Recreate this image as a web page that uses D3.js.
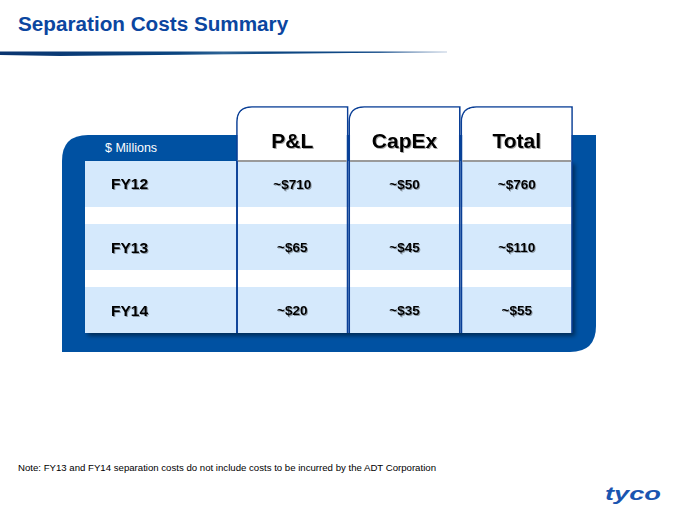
<!DOCTYPE html>
<html><head><meta charset="utf-8">
<script src="https://cdn.jsdelivr.net/npm/d3@7"></script>
<style>html,body{margin:0;padding:0;background:#fff;}svg{display:block;}</style>
</head><body>
<script>
const title = "Separation Costs Summary";
const unitLabel = "$ Millions";
const years = ["FY12", "FY13", "FY14"];
const columns = ["P&L", "CapEx", "Total"];
const plValues = [710, 65, 20];
const capexValues = [50, 45, 35];
const totalValues = [760, 110, 55];
const note = "Note:  FY13 and FY14 separation costs do not include costs  to be incurred by the ADT Corporation";

const W = 680, H = 510;
const svg = d3.select("body").append("svg").attr("width", W).attr("height", H);
const defs = svg.append("defs");
const g1 = defs.append("linearGradient").attr("id","ul").attr("x1","0").attr("x2","1");
g1.append("stop").attr("offset","0").attr("stop-color","#0a3570");
g1.append("stop").attr("offset","0.4").attr("stop-color","#0b4580");
g1.append("stop").attr("offset","0.5").attr("stop-color","#2e6496");
g1.append("stop").attr("offset","0.6").attr("stop-color","#0b4580");
g1.append("stop").attr("offset","0.85").attr("stop-color","#124a88");
g1.append("stop").attr("offset","1").attr("stop-color","#bfcde0");
const f = defs.append("filter").attr("id","sh").attr("x","-5%").attr("y","-5%").attr("width","115%").attr("height","120%");
f.append("feDropShadow").attr("dx",3).attr("dy",3).attr("stdDeviation",2).attr("flood-color","#000").attr("flood-opacity",0.45);
const ts = defs.append("filter").attr("id","ts").attr("x","-10%").attr("y","-20%").attr("width","130%").attr("height","150%");
ts.append("feDropShadow").attr("dx",1).attr("dy",1).attr("stdDeviation",0.6).attr("flood-color","#000").attr("flood-opacity",0.35);

// Title
svg.append("text").attr("x",18).attr("y",31).text(title)
  .attr("font-family","Liberation Sans, Arial, sans-serif").attr("font-weight","bold")
  .attr("font-size",20.7).attr("fill","#0b46a0");
// underline swoosh
svg.append("path").attr("d","M0,51.5 L447,51.5 L447,52.6 Q260,53.5 60,56 L0,55 Z").attr("fill","url(#ul)");

const blue = "#0051a2";
// outer blue panel
const L=62, T=135, R=596, B=352, r=26;
svg.append("path").attr("d",`M${L},${B} L${L},${T+r} Q${L},${T} ${L+r},${T} L${R},${T} L${R},${B-r} Q${R},${B} ${R-r},${B} Z`).attr("fill",blue);

svg.append("text").attr("x",105).attr("y",152).text(unitLabel)
  .attr("font-family","Liberation Sans, Arial, sans-serif").attr("font-size",12.5).attr("fill","#fff");

const tL=85, tT=161, tR=572, tB=333;
const y = d3.scaleBand().domain(years).range([tT, tB]).paddingInner(0.27);
const x = d3.scaleBand().domain(columns).range([237, tR]).paddingInner(0.015);

// table body with shadow
const body = svg.append("g");
body.append("rect").attr("x",tL).attr("y",tT).attr("width",tR-tL).attr("height",tB-tT).attr("fill","#fff").attr("filter","url(#sh)");
body.selectAll("rect.row").data(years).join("rect").attr("class","row")
  .attr("x",tL).attr("y",d=>y(d)).attr("width",tR-tL).attr("height",y.bandwidth()).attr("fill","#d5e9fc");

// header cards
const cardTop = 107, cr = 15;
const cards = svg.append("g");
columns.forEach(c=>{
  const x0 = x(c), x1 = x(c)+x.bandwidth();
  cards.append("path").attr("d",`M${x0},${tB} L${x0},${cardTop+cr} Q${x0},${cardTop} ${x0+cr},${cardTop} L${x1},${cardTop} L${x1},${tB}`)
    .attr("fill","none").attr("stroke","#0a3f96").attr("stroke-width",1.6);
  cards.append("path").attr("d",`M${x0+0.8},${tT} L${x0+0.8},${cardTop+cr} Q${x0+0.8},${cardTop+0.8} ${x0+cr},${cardTop+0.8} L${x1-0.8},${cardTop+0.8} L${x1-0.8},${tT} Z`)
    .attr("fill","#fff");
  cards.append("rect").attr("x",x0+0.8).attr("y",tT-1).attr("width",x.bandwidth()-1.6).attr("height",2).attr("fill","#9a9a9a");
  cards.append("text").attr("x",x0+x.bandwidth()/2).attr("y",148).attr("text-anchor","middle").text(c)
    .attr("font-family","Liberation Sans, Arial, sans-serif").attr("font-weight","bold").attr("font-size",21).attr("fill","#000").attr("filter","url(#ts)");
});
// first column divider
svg.append("line").attr("x1",237).attr("x2",237).attr("y1",tT).attr("y2",tB).attr("stroke","#0a3f96").attr("stroke-width",1.6);

// row labels
svg.selectAll("text.yr").data(years).join("text").attr("class","yr")
  .attr("x",111).attr("y",d=>y(d)+y.bandwidth()/2+5.5).text(d=>d)
  .attr("font-family","Liberation Sans, Arial, sans-serif").attr("font-weight","bold").attr("font-size",15.5).attr("fill","#000").attr("filter","url(#ts)");

const valueSets = {"P&L": plValues, "CapEx": capexValues, "Total": totalValues};
columns.forEach(c=>{
  svg.selectAll(null).data(valueSets[c]).join("text")
    .attr("x",x(c)+x.bandwidth()/2).attr("y",(d,i)=>y(years[i])+y.bandwidth()/2+5)
    .attr("text-anchor","middle").text(d=>"~$"+d)
    .attr("font-family","Liberation Sans, Arial, sans-serif").attr("font-weight","bold").attr("font-size",13.5).attr("fill","#000").attr("filter","url(#ts)");
});

// note
svg.append("text").attr("x",18).attr("y",471).text(note)
  .attr("font-family","Liberation Sans Narrow, Liberation Sans, Arial, sans-serif").attr("font-size",9.5).attr("fill","#000")
  .attr("textLength",418).attr("lengthAdjust","spacingAndGlyphs");

// logo
svg.append("text").attr("x",605).attr("y",500).text("tyco")
  .attr("font-family","Liberation Sans, Arial, sans-serif").attr("font-weight","bold").attr("font-style","italic")
  .attr("font-size",18).attr("fill","#1a55b0")
  .attr("textLength",56).attr("lengthAdjust","spacingAndGlyphs");
</script>
</body></html>
